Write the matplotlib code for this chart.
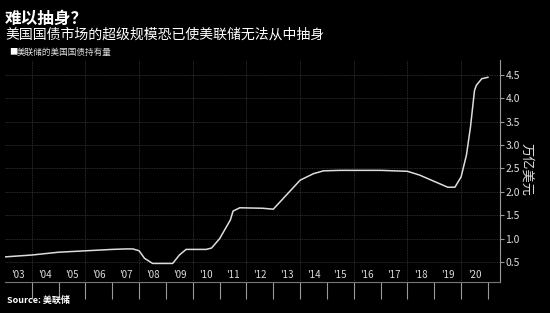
import numpy as np
import matplotlib.pyplot as plt
from matplotlib.ticker import FixedLocator, NullFormatter

plt.rcParams['font.family'] = ['Noto Sans CJK SC', 'DejaVu Sans']

# Fed holdings of US Treasuries, trillions USD
years = [2003.0, 2004.0, 2005.0, 2006.0, 2007.0, 2007.5, 2007.77, 2008.0,
         2008.2, 2008.5, 2009.25, 2009.5, 2009.75, 2010.5, 2010.7, 2011.0,
         2011.4, 2011.5, 2011.75, 2012.6, 2013.0, 2014.0, 2014.5, 2014.87,
         2015.5, 2017.0, 2018.0, 2018.45, 2019.5, 2019.77, 2020.0, 2020.2,
         2020.35, 2020.5, 2020.57, 2020.77, 2021.0]
holdings = [0.61, 0.65, 0.71, 0.74, 0.77, 0.78, 0.78, 0.74,
            0.58, 0.47, 0.47, 0.65, 0.77, 0.77, 0.80, 1.00,
            1.40, 1.59, 1.66, 1.65, 1.63, 2.25, 2.39, 2.45,
            2.46, 2.46, 2.44, 2.36, 2.10, 2.10, 2.32, 2.79,
            3.39, 4.17, 4.28, 4.42, 4.45]

year_labels = ["'%02d" % (y % 100) for y in range(2003, 2021)]
y_ticks = [0.5, 1.0, 1.5, 2.0, 2.5, 3.0, 3.5, 4.0, 4.5]

bg = 'black'
fig = plt.figure(figsize=(5.5, 3.13), dpi=100, facecolor=bg)
ax = fig.add_axes([5 / 550, 1 - 282 / 313, 495 / 550, 222 / 313], facecolor=bg)

ax.plot(years, holdings, color='#dddddd', lw=1.1)

ax.set_xlim(2003.0, 2021.45)
ax.set_ylim(0.073, 4.82)

# year boundary ticks (no label) and mid-year labels
ax.xaxis.set_major_locator(FixedLocator(range(2004, 2022)))
ax.xaxis.set_major_formatter(NullFormatter())
ax.xaxis.set_minor_locator(FixedLocator([y + 0.5 for y in range(2003, 2021)]))
ax.set_xticklabels(year_labels, minor=True)
ax.tick_params(axis='x', which='major', length=12, width=0.8, color='#999999', direction='out')
ax.tick_params(axis='x', which='minor', length=0, pad=-9, labelsize=7, labelcolor='#dddddd')

ax.yaxis.tick_right()
ax.set_yticks(y_ticks)
ax.set_yticklabels(['%.1f' % v for v in y_ticks])
ax.tick_params(axis='y', length=3, width=0.8, color='#999999', labelsize=7.5,
               labelcolor='#dddddd', pad=1)

# dotted grid: every 0.5 horizontally, every other year vertically
for v in y_ticks:
    ax.axhline(v, color='#3a3a3a', lw=0.6, ls=(0, (1, 1)), zorder=0)
for yr in range(2004, 2022, 2):
    ax.axvline(yr, color='#3a3a3a', lw=0.6, ls=(0, (1, 1)), zorder=0)

for side in ['left', 'top']:
    ax.spines[side].set_visible(False)
ax.spines['right'].set_color('#999999')
ax.spines['bottom'].set_color('#777777')
ax.spines['right'].set_linewidth(0.8)
ax.spines['bottom'].set_linewidth(0.8)

fig.text(526 / 550, 1 - 170 / 313, '万亿美元', rotation=270, color='#dddddd',
         fontsize=9.5, ha='center', va='center')

fig.text(5 / 550, 1 - 19 / 313, '难以抽身？', color='white', fontsize=12,
         fontweight='bold', va='center', ha='left')
fig.text(5 / 550, 1 - 35 / 313, '美国国债市场的超级规模恐已使美联储无法从中抽身',
         color='white', fontsize=10, va='center', ha='left')
fig.text(9 / 550, 1 - 52 / 313, '■', color='white', fontsize=6, va='center', ha='left')
fig.text(17 / 550, 1 - 52 / 313, '美联储的美国国债持有量', color='#dddddd',
         fontsize=6.2, va='center', ha='left')
fig.text(7 / 550, 1 - 300 / 313, 'Source: 美联储', color='white', fontsize=6.5,
         fontweight='bold', va='center', ha='left')

fig.savefig('out.png', dpi=100, facecolor=bg)
